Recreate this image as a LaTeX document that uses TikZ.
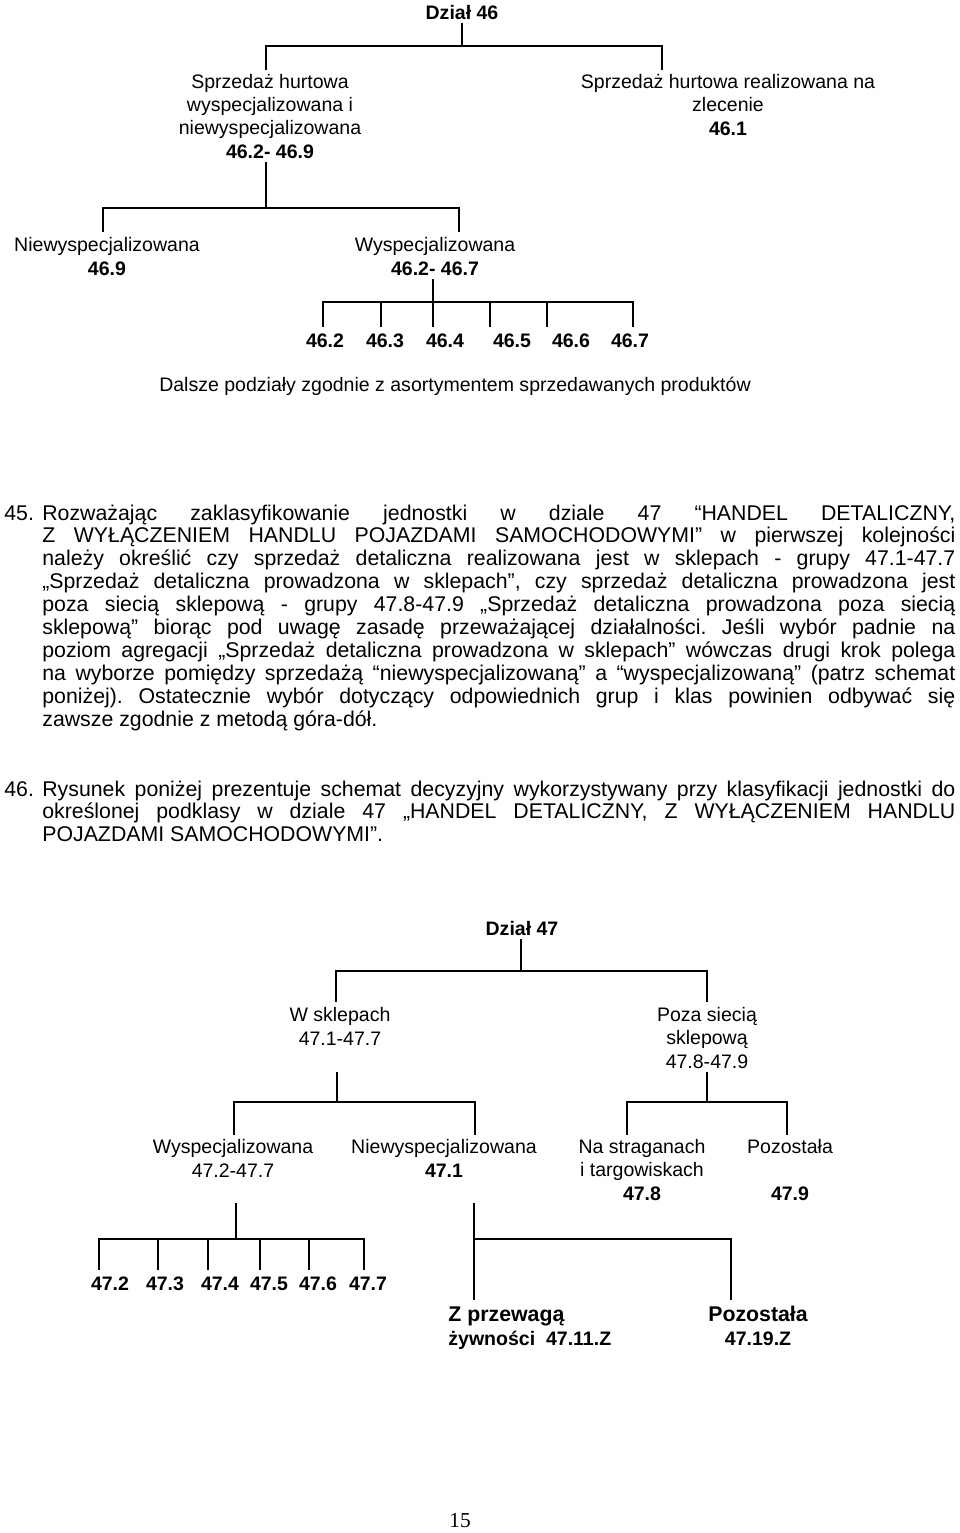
\documentclass[tikz,border=0pt]{standalone}
\usepackage{fontspec}
\setmainfont{Liberation Sans}
\newfontfamily\pagefont{Liberation Serif}
\usepackage{tikz}

\tolerance=10000
\hbadness=10000
\frenchspacing

\tikzset{
	lbl/.style={align=center, inner sep=2pt, anchor=base, font=\fontsize{11}{13}\selectfont},
	hd/.style={lbl, font=\fontsize{11}{13}\selectfont\bfseries},
	num/.style={lbl, font=\fontsize{11}{13}\selectfont\bfseries},
	bigb/.style={lbl, font=\fontsize{12}{13}\selectfont\bfseries},
	para/.style={anchor=base west, inner sep=0pt, text width=514.4pt, align=justify, font=\fontsize{12}{12.9}\selectfont},
	item/.style={anchor=base west, inner sep=0pt, font=\fontsize{12}{12.9}\selectfont},
	link/.style={line width=1.6pt},
}

\begin{document}
\begin{tikzpicture}[x=0.5634pt, y=-0.5634pt]
	\useasboundingbox (0,0) rectangle (960,1533);

	% dzial 46
	\node[hd] (d46) at (462,19) {Dział 46};
	\node[lbl] (hurt) at (270,158) {Sprzedaż hurtowa\\wyspecjalizowana i\\niewyspecjalizowana\\\textbf{46.2- 46.9}};
	\node[lbl] (zlec) at (728,135) {Sprzedaż hurtowa realizowana na\\zlecenie\\\textbf{46.1}};
	\node[lbl] (niew46) at (107,275) {Niewyspecjalizowana\\\textbf{46.9}};
	\node[lbl] (wysp46) at (435,275) {Wyspecjalizowana\\\textbf{46.2- 46.7}};
	\node[lbl] (dalsze) at (455,391) {Dalsze podziały zgodnie z asortymentem sprzedawanych produktów};

	\coordinate (j46) at (462,46);
	\coordinate (hurt-t) at (266,70);
	\coordinate (zlec-t) at (662,70);
	\coordinate (j462) at (266,208);
	\coordinate (niew46-t) at (103,232);
	\coordinate (wysp46-t) at (459,232);
	\coordinate (j4627) at (433,302);

	\draw[link] (d46) -- (j46);
	\draw[link] (hurt-t) |- (j46) -| (zlec-t);
	\draw[link] (hurt.south -| j462) -- (j462);
	\draw[link] (niew46-t) |- (j462) -| (wysp46-t);
	\draw[link] (wysp46.south -| j4627) -- (j4627);

	\foreach \k/\x/\lx in {2/323/325, 3/381/385, 4/433/445, 5/490/512, 6/547/571, 7/633/630} {
		\coordinate (g46\k) at (\x,327);
		\node[num] (n46\k) at (\lx,347) {46.\k};
		\draw[link] (g46\k) |- (j4627);
	}

	% tekst
	\node[item] (i45) at (4,520) {45.};
	\node[para] (p45) at (42,520) {Rozważając zaklasyfikowanie jednostki w dziale 47 “HANDEL DETALICZNY,\linebreak
	Z WYŁĄCZENIEM HANDLU POJAZDAMI SAMOCHODOWYMI” w pierwszej kolejności\linebreak
	należy określić czy sprzedaż detaliczna realizowana jest w sklepach - grupy 47.1-47.7\linebreak
	„Sprzedaż detaliczna prowadzona w sklepach”, czy sprzedaż detaliczna prowadzona jest\linebreak
	poza siecią sklepową - grupy 47.8-47.9 „Sprzedaż detaliczna prowadzona poza siecią\linebreak
	sklepową” biorąc pod uwagę zasadę przeważającej działalności. Jeśli wybór padnie na\linebreak
	poziom agregacji „Sprzedaż detaliczna prowadzona w sklepach” wówczas drugi krok polega\linebreak
	na wyborze pomiędzy sprzedażą “niewyspecjalizowaną” a “wyspecjalizowaną” (patrz schemat\linebreak
	poniżej). Ostatecznie wybór dotyczący odpowiednich grup i klas powinien odbywać się\linebreak
	zawsze zgodnie z metodą góra-dół.};
	\node[item] (i46) at (4,796) {46.};
	\node[para] (p46) at (42,796) {Rysunek poniżej prezentuje schemat decyzyjny wykorzystywany przy klasyfikacji jednostki do\linebreak
	określonej podklasy w dziale 47 „HANDEL DETALICZNY, Z WYŁĄCZENIEM HANDLU\linebreak
	POJAZDAMI SAMOCHODOWYMI”.};

	% dzial 47
	\node[hd] (d47) at (522,935) {Dział 47};
	\node[lbl] (skl) at (340,1045) {W sklepach\\47.1-47.7};
	\node[lbl] (poza) at (707,1068) {Poza siecią\\sklepową\\47.8-47.9};
	\node[lbl] (wysp47) at (233,1177) {Wyspecjalizowana\\47.2-47.7};
	\node[lbl] (niew47) at (444,1177) {Niewyspecjalizowana\\\textbf{47.1}};
	\node[lbl] (stra) at (642,1200) {Na straganach\\i targowiskach\\\textbf{47.8}};
	\node[lbl] (poz) at (790,1200) {Pozostała\\[13pt]\textbf{47.9}};

	\coordinate (j47) at (521,971);
	\coordinate (skl-t) at (336,1002);
	\coordinate (poza-t) at (707,1002);
	\coordinate (skl-b) at (337,1072);
	\coordinate (j471) at (337,1102);
	\coordinate (j478) at (707,1102);
	\coordinate (wysp47-t) at (234,1135);
	\coordinate (niew47-t) at (475,1135);
	\coordinate (stra-t) at (627,1135);
	\coordinate (poz-t) at (787,1135);

	\draw[link] (d47.south -| j47) -- (j47);
	\draw[link] (skl-t) |- (j47) -| (poza-t);
	\draw[link] (skl-b) -- (j471);
	\draw[link] (poza) -- (j478);
	\draw[link] (wysp47-t) |- (j471) -| (niew47-t);
	\draw[link] (stra-t) |- (j478) -| (poz-t);

	\coordinate (wysp47-b) at (236,1203);
	\coordinate (j472) at (236,1239);
	\coordinate (niew47-b) at (474,1203);
	\coordinate (j4711) at (474,1239);
	\coordinate (zprz-t) at (474,1300);
	\coordinate (pozz-t) at (731,1300);

	\draw[link] (wysp47-b) -- (j472);
	\foreach \k/\x/\lx in {2/99/110, 3/158/165, 4/208/220, 5/260/269, 6/309/318, 7/364/368} {
		\coordinate (g47\k) at (\x,1270);
		\node[num] (n47\k) at (\lx,1290) {47.\k};
		\draw[link] (g47\k) |- (j472);
	}
	\draw[link] (niew47-b) -- (j4711) -- (zprz-t);
	\draw[link] (j4711) -| (pozz-t);

	\node[bigb, align=left, anchor=base west] (zprz) at (444.5,1345) {Z przewagą\\\fontsize{11}{13}\selectfont żywności\ \ 47.11.Z};
	\node[bigb] (pozz) at (758,1345) {Pozostała\\\fontsize{11}{13}\selectfont 47.19.Z};

	\node[lbl, font=\fontsize{12}{13}\pagefont] (page) at (460,1527) {15};
\end{tikzpicture}
\end{document}
